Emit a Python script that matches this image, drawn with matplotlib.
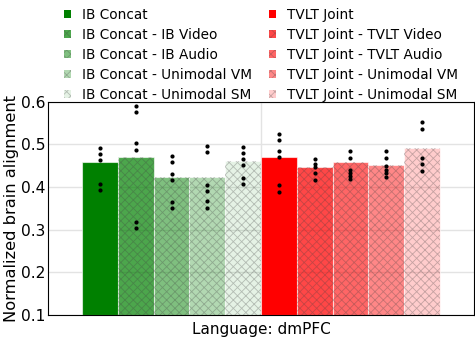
import numpy as np
import matplotlib
matplotlib.use('Agg')
from matplotlib import pyplot as plt
from matplotlib.patches import Patch

# bar labels and values
ib_labels = ['IB Concat', 'IB Concat - IB Video', 'IB Concat - IB Audio',
             'IB Concat - Unimodal VM', 'IB Concat - Unimodal SM']
tvlt_labels = ['TVLT Joint', 'TVLT Joint - TVLT Video', 'TVLT Joint - TVLT Audio',
               'TVLT Joint - Unimodal VM', 'TVLT Joint - Unimodal SM']
ib_means = [0.459, 0.470, 0.424, 0.423, 0.462]
tvlt_means = [0.471, 0.448, 0.459, 0.451, 0.491]

# individual subject points
ib_points = [
    [0.491, 0.477, 0.463, 0.406, 0.393],
    [0.591, 0.575, 0.502, 0.487, 0.319, 0.305],
    [0.473, 0.458, 0.431, 0.416, 0.364, 0.350],
    [0.497, 0.481, 0.405, 0.391, 0.367, 0.352],
    [0.494, 0.480, 0.466, 0.452, 0.422, 0.407],
]
tvlt_points = [
    [0.525, 0.510, 0.485, 0.470, 0.404, 0.389],
    [0.466, 0.454, 0.446, 0.433, 0.416],
    [0.484, 0.469, 0.439, 0.432, 0.426, 0.418],
    [0.484, 0.469, 0.449, 0.439, 0.432, 0.424],
    [0.552, 0.536, 0.469, 0.454, 0.438],
]
xlabel = 'Language: dmPFC'

alphas_ib = [1.0, 0.7, 0.5, 0.3, 0.1]
alphas_tvlt = [1.0, 0.72, 0.6, 0.47, 0.2]

plt.rcParams['hatch.linewidth'] = 0.6
hatch_col = (0.25, 0.25, 0.25, 0.3)

fig = plt.figure(figsize=(4.75, 3.58), dpi=100)
ax = fig.add_axes([0.101, 0.12, 0.897, 0.596])

labels = ib_labels + tvlt_labels
means = ib_means + tvlt_means
points = ib_points + tvlt_points
colors = [(0, 0.5, 0, a) for a in alphas_ib] + [(1, 0, 0, a) for a in alphas_tvlt]

n = len(labels)
w = 0.084
xs = (np.arange(n) - (n - 1) / 2) * w

handles = []
for i in range(n):
    ax.bar(xs[i], means[i] - 0.1, bottom=0.1, width=w, color=colors[i],
           edgecolor=(1, 1, 1, 0.6), linewidth=0.8, zorder=2)
    if i % 5 != 0:
        ax.bar(xs[i], means[i] - 0.1, bottom=0.1, width=w, facecolor='none',
               edgecolor=hatch_col, linewidth=0, hatch='xxxx', zorder=3)
    ax.scatter([xs[i]] * len(points[i]), points[i], s=9, color='black', zorder=4,
               linewidths=0)
    handles.append(Patch(facecolor=colors[i], edgecolor=hatch_col if i % 5 else 'none',
                         hatch='xxxx' if i % 5 else None, linewidth=0))

ax.set_xlim(-0.5, 0.5)
ax.set_ylim(0.1, 0.6)
ax.set_yticks([0.1, 0.2, 0.3, 0.4, 0.5, 0.6])
ax.set_xticks([0])
ax.set_xticklabels([xlabel], fontsize=11)
ax.tick_params(axis='y', labelsize=11.2, length=0, pad=2)
ax.tick_params(axis='x', length=0, pad=5)
ax.set_ylabel('Normalized brain alignment', fontsize=11.7, labelpad=1)
ax.grid(True, color='#e3e3e3', linewidth=1, zorder=0)
ax.set_axisbelow(True)

ax.legend(handles=handles, labels=labels, ncol=2, frameon=False, fontsize=9.8,
          loc='lower center', bbox_to_anchor=(0.5, 0.988), handlelength=0.55,
          handleheight=0.55, handletextpad=0.8, columnspacing=1.2, labelspacing=0.44,
          borderaxespad=0, borderpad=0.2)

fig.savefig('out.png', dpi=100)
